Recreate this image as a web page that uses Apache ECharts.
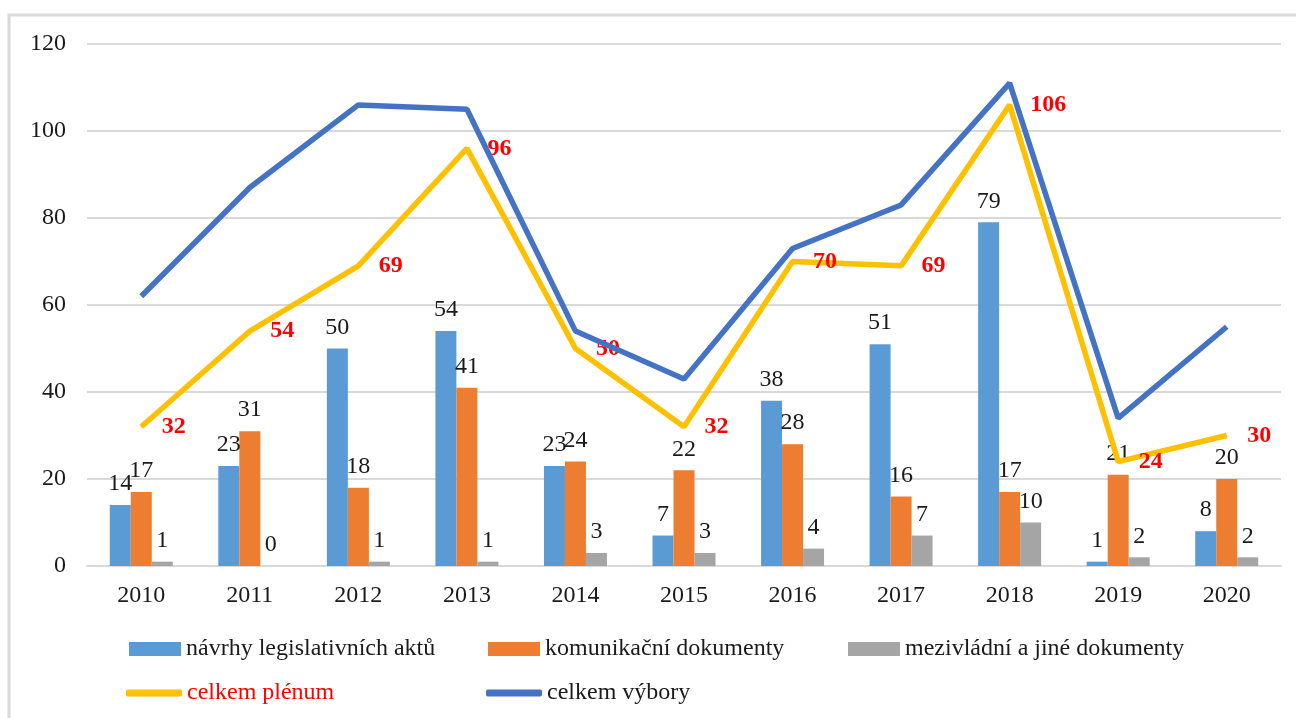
<!DOCTYPE html>
<html>
<head>
<meta charset="utf-8">
<script src="https://cdn.jsdelivr.net/npm/echarts@6/dist/echarts.min.js"></script>
<style>
html,body{margin:0;padding:0;background:#fff;}
#chart{width:1296px;height:718px;}
</style>
</head>
<body>
<div id="chart"></div>
<script>
const years = ['2010','2011','2012','2013','2014','2015','2016','2017','2018','2019','2020'];
const navrhy = [14, 23, 50, 54, 23, 7, 38, 51, 79, 1, 8];
const komunikacni = [17, 31, 18, 41, 24, 22, 28, 16, 17, 21, 20];
const mezivladni = [1, 0, 1, 1, 3, 3, 4, 7, 10, 2, 2];
const plenum = [32, 54, 69, 96, 50, 32, 70, 69, 106, 24, 30];
const vybory = [62, 87, 106, 105, 54, 43, 73, 83, 111, 34, 55];
const names = ['návrhy legislativních aktů', 'komunikační dokumenty', 'mezivládní a jiné dokumenty', 'celkem plénum', 'celkem výbory'];

const FONT = 'Liberation Serif';
const FS = 24;
const chart = echarts.init(document.getElementById('chart'));

const barLabel = {
  show: true, position: 'top', distance: 9,
  fontFamily: FONT, fontSize: FS, color: '#1a1a1a'
};

function legendItem(name, left, top, color, isLine) {
  return {
    data: [{ name: name, textStyle: { color: color } }],
    left: left, top: top,
    itemWidth: isLine ? 56 : 52,
    itemHeight: isLine ? 7 : 14,
    icon: isLine ? 'roundRect' : 'rect',
    textStyle: { fontFamily: FONT, fontSize: FS, color: color },
    padding: 0
  };
}

chart.setOption({
  animation: false,
  backgroundColor: '#ffffff',
  graphic: [{
    type: 'rect',
    shape: { x: 9, y: 15, width: 1400, height: 800 },
    style: { fill: 'none', stroke: '#d9d9d9', lineWidth: 3 },
    silent: true
  }],
  grid: { left: 87, right: 15, top: 44, bottom: 152 },
  legend: [
    legendItem(names[0], 129, 637, '#1a1a1a', false),
    legendItem(names[1], 488, 637, '#1a1a1a', false),
    legendItem(names[2], 848, 637, '#1a1a1a', false),
    legendItem(names[3], 126, 681, '#ff0000', true),
    legendItem(names[4], 486, 681, '#1a1a1a', true)
  ],
  xAxis: {
    type: 'category',
    data: years,
    axisTick: { show: false },
    axisLine: { lineStyle: { color: '#d9d9d9', width: 2 } },
    axisLabel: { fontFamily: FONT, fontSize: FS, color: '#1a1a1a', margin: 18 }
  },
  yAxis: {
    type: 'value',
    min: 0, max: 120, interval: 20,
    axisLine: { show: false },
    axisTick: { show: false },
    splitLine: { lineStyle: { color: '#d9d9d9', width: 2 } },
    axisLabel: { fontFamily: FONT, fontSize: FS, color: '#1a1a1a', margin: 21 }
  },
  series: [
    { name: names[0], type: 'bar', data: navrhy, barWidth: 21, barGap: '0%',
      itemStyle: { color: '#5B9BD5' }, label: barLabel, z: 2 },
    { name: names[1], type: 'bar', data: komunikacni, barWidth: 21, barGap: '0%',
      itemStyle: { color: '#ED7D31' }, label: barLabel, z: 2 },
    { name: names[2], type: 'bar', data: mezivladni, barWidth: 21, barGap: '0%',
      itemStyle: { color: '#A5A5A5' }, label: barLabel, z: 2 },
    { name: names[3], type: 'line', data: plenum, symbol: 'circle', symbolSize: 1,
      showSymbol: true, z: 3,
      lineStyle: { color: '#FFC000', width: 5.5 }, itemStyle: { color: '#FFC000' },
      label: { show: true, position: 'right', distance: 20, fontFamily: FONT,
               fontSize: FS, fontWeight: 'bold', color: '#ff0000' } },
    { name: names[4], type: 'line', data: vybory, symbol: 'none', z: 4,
      lineStyle: { color: '#4472C4', width: 5.5 }, itemStyle: { color: '#4472C4' } }
  ]
});
</script>
</body>
</html>
